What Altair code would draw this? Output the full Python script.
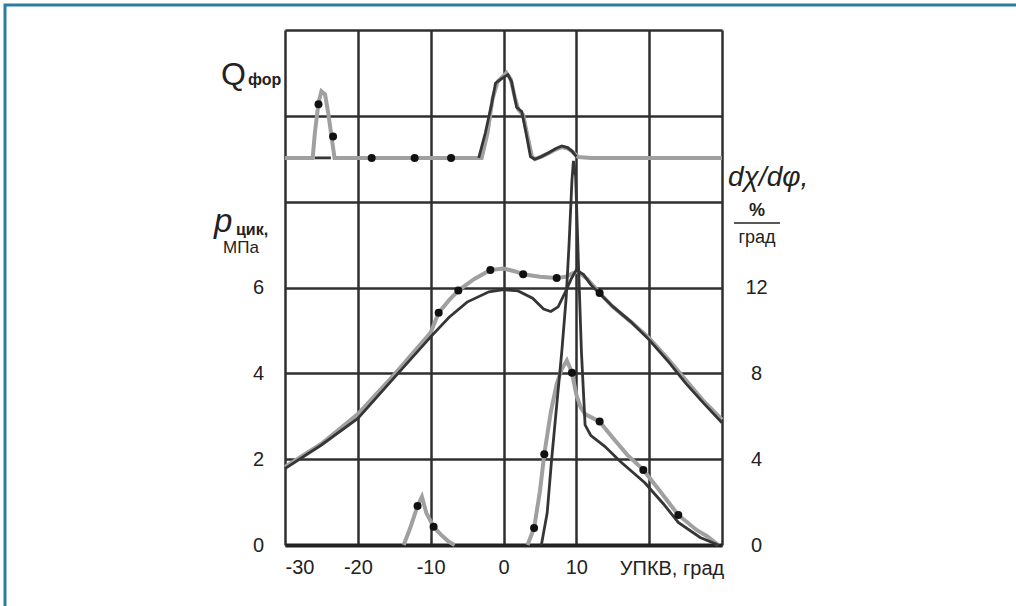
import altair as alt
import pandas as pd

# ---------------- data ----------------
# cylinder pressure p_cyl, MPa (left axis) - gray curve (with markers)
p_gray_x = [-30, -25, -20, -15, -10, -8.9, -7.5, -6.2, -4, -1.8, 0, 1.5, 2.7, 5, 7.3, 8.5, 9.5, 10.2,
            11.5, 13.2, 15, 17.5, 20, 22.5, 25, 27.5, 30]
p_gray_y = [1.82, 2.36, 3.05, 3.97, 4.95, 5.41, 5.7, 5.93, 6.2, 6.41, 6.44, 6.38, 6.31, 6.25, 6.22, 6.25,
            6.33, 6.37, 6.2, 5.87, 5.55, 5.2, 4.82, 4.35, 3.85, 3.35, 2.92]
# cylinder pressure - dark curve
p_dark_x = [-30, -25, -20, -15, -10, -7.5, -5, -2, 0, 2, 4, 5.5, 6.5, 7.5, 8.5, 9.3, 10, 11, 12, 15,
            17.5, 20, 22.5, 25, 27.5, 30]
p_dark_y = [1.78, 2.33, 2.95, 3.9, 4.85, 5.3, 5.66, 5.9, 5.95, 5.92, 5.75, 5.5, 5.44, 5.55, 5.9, 6.2,
            6.41, 6.3, 6.06, 5.56, 5.2, 4.78, 4.3, 3.77, 3.3, 2.85]

# injection rate Q_for (drawn on the left scale, no axis) - gray curve
q_gray_x = [-30, -26.2, -25.9, -25.4, -25.0, -24.5, -24.1, -23.6, -23.2, -20, -10, -3.0, -2.2, -1.5,
            -0.8, 0.4, 1.0, 1.6, 2.05, 2.7, 3.2, 3.9, 4.3, 5.2, 6.2, 7.2, 8.0, 8.8, 9.4, 10.3, 12, 20, 30]
q_gray_y = [9.02, 9.02, 9.6, 10.3, 10.57, 10.5, 10.1, 9.5, 9.02, 9.02, 9.02, 9.02, 9.6, 10.4,
            10.8, 11.0, 10.85, 10.4, 10.14, 10.02, 9.6, 9.05, 8.99, 9.05, 9.13, 9.22, 9.27, 9.24, 9.17,
            9.04, 9.02, 9.02, 9.02]
# injection rate - dark curve (two visible pieces)
q_dark1_x = [-25.9, -23.7]
q_dark1_y = [9.02, 9.02]
q_dark2_x = [-3.4, -2.5, -1.6, -1.1, -0.4, 0.6, 1.1, 1.8, 2.5, 3.1, 3.7, 4.3, 5.2, 6.2, 7.2, 8.0,
             8.8, 9.4, 10.0]
q_dark2_y = [9.02, 9.6, 10.3, 10.76, 10.85, 10.96, 10.8, 10.2, 10.1, 9.6, 9.05, 8.99, 9.05, 9.14,
             9.24, 9.3, 9.26, 9.18, 9.05]

# heat release rate dchi/dphi, %/grad (right axis)
hr_pilot_x = [-13.7, -12.8, -11.8, -11.2, -10.6, -9.6, -8.5, -7.5, -6.7]
hr_pilot_y = [0, 0.8, 1.82, 2.25, 1.5, 0.85, 0.45, 0.15, 0]
hr_gray_x = [3.3, 4.2, 5.0, 5.6, 6.5, 7.3, 8.0, 8.7, 9.4, 10.0, 10.6, 11.2, 13.2, 15, 17, 19.2,
             21.5, 24, 26.5, 28, 29.5]
hr_gray_y = [0, 0.79, 2.5, 4.23, 6.2, 7.5, 8.2, 8.6, 8.03, 7.0, 6.4, 6.1, 5.75, 5.0, 4.2, 3.5,
             2.5, 1.4, 0.7, 0.4, 0]
hr_dark_x = [5.2, 6.0, 6.6, 7.3, 8.0, 8.6, 9.0, 9.4, 9.6, 9.9, 10.3, 10.7, 11.2, 12, 13.9, 16,
             19.4, 22, 24, 27, 29.5]
hr_dark_y = [0, 1.5, 3.96, 6.5, 9.0, 11.5, 14.0, 17.0, 17.9, 17.2, 13.0, 9.0, 5.6, 5.1, 4.6, 3.9,
             2.9, 1.9, 1.05, 0.35, 0]

# markers
dots_left_x = [-25.4, -23.4, -18.1, -12.2, -7.2, -8.9, -6.2, -1.8, 2.7, 7.3, 13.2]
dots_left_y = [10.27, 9.52, 9.02, 9.02, 9.02, 5.41, 5.93, 6.41, 6.31, 6.22, 5.87]
dots_right_x = [-11.8, -9.6, 4.2, 5.6, 9.4, 13.2, 19.2, 24]
dots_right_y = [1.82, 0.85, 0.79, 4.23, 8.03, 5.75, 3.5, 1.4]

x_ticks = [-30, -20, -10, 0, 10, 20, 30]
left_ticks = [0, 2, 4, 6, 8, 10, 12]
right_ticks = [0, 4, 8, 12]

# ---------------- tables ----------------
def frame(xs, ys, name):
    return pd.DataFrame({"x": xs, "y": ys, "series": name})

left_gray = pd.concat([frame(p_gray_x, p_gray_y, "p_gray"), frame(q_gray_x, q_gray_y, "q_gray")])
left_dark = pd.concat([frame(p_dark_x, p_dark_y, "p_dark"), frame(q_dark1_x, q_dark1_y, "q_dark1"),
                       frame(q_dark2_x, q_dark2_y, "q_dark2")])
right_gray = pd.concat([frame(hr_pilot_x, hr_pilot_y, "hr_pilot"), frame(hr_gray_x, hr_gray_y, "hr_gray")])
right_dark = frame(hr_dark_x, hr_dark_y, "hr_dark")
left_dots = pd.DataFrame({"x": dots_left_x, "y": dots_left_y})
right_dots = pd.DataFrame({"x": dots_right_x, "y": dots_right_y})

FONT = "Liberation Sans"
GRID = "#2f2f2f"
GRAY = "#a0a0a0"
DARK = "#353535"
TICK_SIZE = 20

xenc = alt.X("x:Q", scale=alt.Scale(domain=[-30, 30], nice=False, zero=False),
             axis=alt.Axis(values=x_ticks, grid=True, gridColor=GRID, gridWidth=2.5, gridOpacity=1,
                           domain=True, domainColor="#222", domainWidth=4, ticks=False,
                           labelExpr="datum.value <= 10 ? toString(datum.value) : ''",
                           labelFont=FONT, labelFontSize=TICK_SIZE, labelColor="#222", labelPadding=12,
                           title=None))
yleft = alt.Y("y:Q", scale=alt.Scale(domain=[0, 12], nice=False, zero=False),
              axis=alt.Axis(values=left_ticks, grid=True, gridColor=GRID, gridWidth=2.5, gridOpacity=1,
                            domain=False, ticks=False, orient="left",
                            labelExpr="datum.value <= 6 ? datum.label : ''",
                            labelFont=FONT, labelFontSize=TICK_SIZE, labelColor="#222",
                            labelAlign="center", labelPadding=27, title=None))
yright = alt.Y("y:Q", scale=alt.Scale(domain=[0, 24], nice=False, zero=False),
               axis=alt.Axis(values=right_ticks, grid=False, domain=False, ticks=False, orient="right",
                             labelFont=FONT, labelFontSize=TICK_SIZE, labelColor="#222",
                             labelAlign="center", labelPadding=34, title=None))

one = pd.DataFrame({"a": [0]})

def txt(s, x, y, size=18, weight="normal", style="normal", align="left"):
    return alt.Chart(one).mark_text(text=s, font=FONT, fontSize=size, fontWeight=weight,
                                    fontStyle=style, align=align, baseline="middle",
                                    color="#222").encode(x=alt.value(x), y=alt.value(y))

left_layer = alt.layer(
    alt.Chart(left_gray).mark_line(color=GRAY, strokeWidth=4).encode(x=xenc, y=yleft, detail="series:N"),
    alt.Chart(left_dark).mark_line(color=DARK, strokeWidth=2.8).encode(x=xenc, y=yleft, detail="series:N"),
    alt.Chart(left_dots).mark_circle(size=64, color="#111", opacity=1).encode(x=xenc, y=yleft),
)

right_layer = alt.layer(
    alt.Chart(right_gray).mark_line(color=GRAY, strokeWidth=4).encode(x=xenc, y=yright, detail="series:N"),
    alt.Chart(right_dark).mark_line(color=DARK, strokeWidth=2.8).encode(x=xenc, y=yright, detail="series:N"),
    alt.Chart(right_dots).mark_circle(size=64, color="#111", opacity=1).encode(x=xenc, y=yright),
)

labels = alt.layer(
    txt("Q", -64, 45, size=32),
    txt("фор", -37, 50, size=16, weight="bold"),
    txt("p", -71, 192, size=33, style="italic"),
    txt("цик,", -49, 200, size=16, weight="bold"),
    txt("МПа", -44, 218, size=17, align="center"),
    txt("dχ/dφ,", 443, 148, size=28, style="italic"),
    txt("%", 472, 181, size=18, weight="bold", align="center"),
    txt("град", 472, 208, size=18, align="center"),
    alt.Chart(one).mark_rule(color="#222", strokeWidth=1.5).encode(
        x=alt.value(449), x2=alt.value(495), y=alt.value(193)),
    txt("УПКВ, град", 387, 539, size=TICK_SIZE, align="center"),
    alt.Chart(one).mark_rect(fillOpacity=0, stroke="#2b7ca3", strokeWidth=3).encode(
        x=alt.value(-280), x2=alt.value(760), y=alt.value(-25), y2=alt.value(600)),
)

chart = alt.layer(left_layer, right_layer, labels).resolve_scale(y="independent").properties(
    width=437, height=515,
    autosize=alt.AutoSizeParams(type="none"),
    padding={"left": 285, "top": 30, "right": 294, "bottom": 61},
).configure_view(stroke=GRID, strokeWidth=3).configure(background="white")

chart.save("out.html", embed_options={"renderer": "svg", "actions": False})
